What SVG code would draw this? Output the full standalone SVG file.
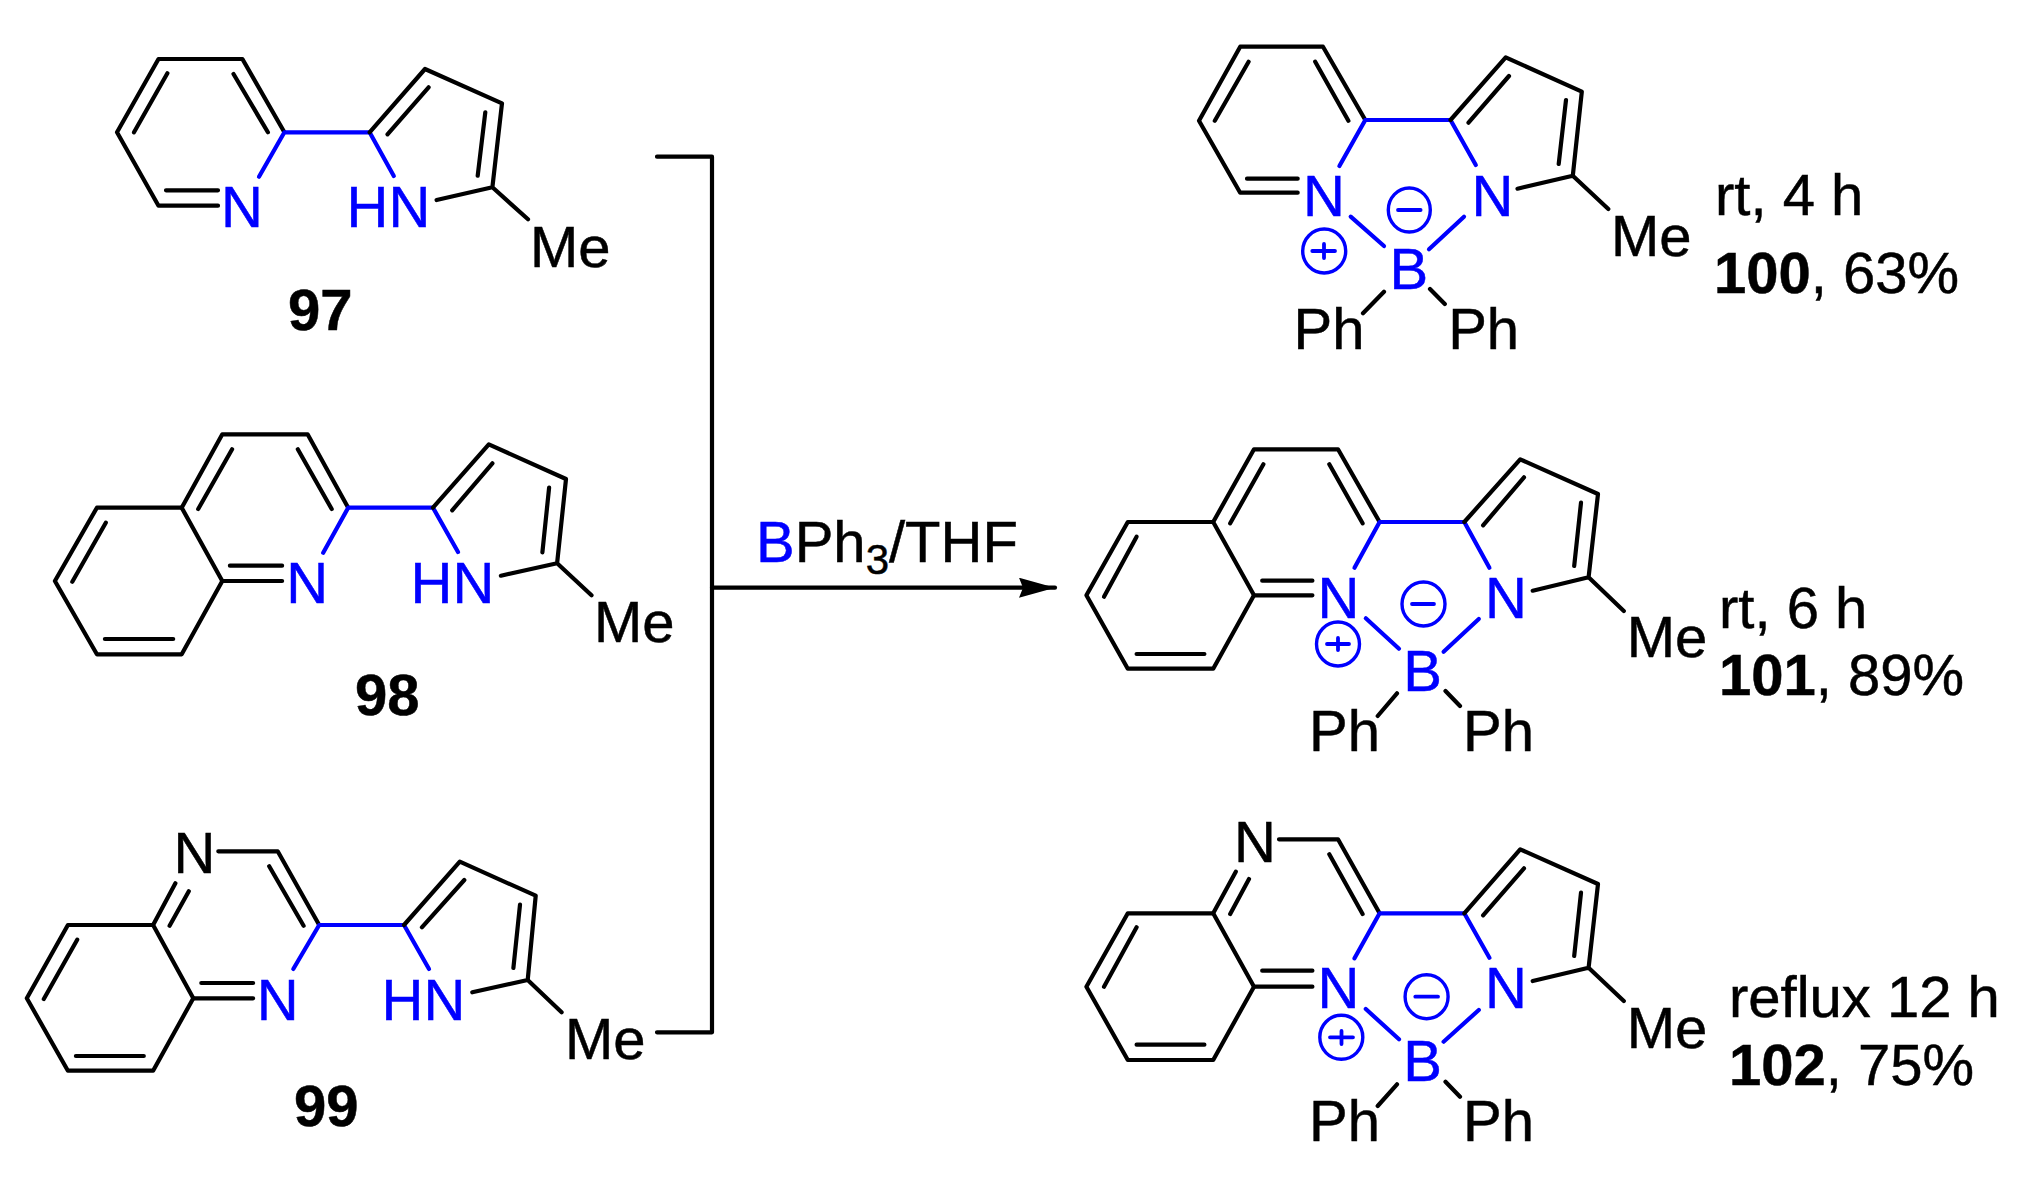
<svg xmlns="http://www.w3.org/2000/svg" width="2034" height="1184" viewBox="0 0 2034 1184">
<defs>
<style>
text{font-family:"Liberation Sans",Arial,sans-serif;font-size:58px;fill:#000;stroke:#000;stroke-width:.5}
.b{fill:#0000ff;stroke:#0000ff}
.bd{font-weight:bold}
path{fill:none;stroke:#000;stroke-width:4.2;stroke-linecap:round;stroke-linejoin:round}
path.bl{stroke:#0000ff}
.c{fill:none;stroke:#0000ff;stroke-width:3.4}
path.s{stroke:#0000ff;stroke-width:3.8;fill:none}
</style>
<marker id="ah" markerUnits="userSpaceOnUse" markerWidth="40" markerHeight="24" refX="36" refY="10" orient="auto">
<polygon points="0,0 36,10 0,20 4,10" fill="#000"/>
</marker>
</defs>
<rect width="2034" height="1184" fill="#fff"/>
<g id="connectors">
<path d="M657 156.7H712V1032.3H657"/>
<path d="M712 587.7H1055" marker-end="url(#ah)"/>
</g>
<g id="reagent"><text x="756" y="561.7"><tspan class="b">B</tspan>Ph<tspan dy="12.5" style="font-size:42px">3</tspan><tspan dy="-12.5">/THF</tspan></text></g>

<g id="m97">
<path d="M284.4 132.3L242.4 59H158.5L117 132.3L158.5 205.7H218M218 190.3H166M167.4 73.3L134 132.3M233.5 74L267.9 132.3"/>
<path class="bl" d="M259 176.7L284.4 132.3H369.6L393.8 176"/>
<path d="M369.6 132.3L425 69L502 103.3L492.4 187.3L436.6 200M387.5 134.3L428.6 87.3M485.3 112.3L477.7 175.7M492.4 187.3L528 219.3"/>
<text class="b" x="221" y="227.3">N</text><text class="b" x="346.5" y="227.3">HN</text>
<text x="530" y="266.7">Me</text><text class="bd" x="288" y="330">97</text>
</g>

<g id="m98">
<path d="M348.2 507.7L307.6 434.3H222.3L181.7 507.7L222.3 581H282.1M282.1 565.7H229.9M232.1 449.3L198.2 509M297.8 449.3L331.7 509"/>
<path d="M181.7 507.7H96.9L54.9 581L96.9 654.3H181.7L222.3 581M105.8 522.7L72.3 581.7M104.9 639H173.2"/>
<path class="bl" d="M323.2 552.7L348.2 507.7H433L458 552"/>
<path d="M433 507.7L488.8 444.3L566 479L557.1 563.3L500.9 575.7M452.2 510.3L492.4 463.3M549.1 487.7L542.4 552.3M557.1 563.3L591.5 595.3"/>
<text class="b" x="286.3" y="603.3">N</text><text class="b" x="410.5" y="603.3">HN</text>
<text x="594" y="642.3">Me</text><text class="bd" x="355" y="715">98</text>
</g>

<g id="m99">
<path d="M319.2 925L277.7 851.3H218.3M175.4 883.3L153.1 925L193.3 998.3H253.1M253.1 983H201.3M169.6 925.7L188.8 891.3M269.2 866.3L303.6 925.7"/>
<path d="M153.1 925H67.9L26.8 998.3L67.9 1070.7H153.1L193.3 998.3M77.2 939.7L43.8 999M75.9 1056H143.8"/>
<path class="bl" d="M293.3 969L319.2 925H404L429 969"/>
<path d="M404 925L459.8 861.7L535.7 895.7L527.7 980L472.3 992.3M421.9 927.3L464.3 880M520 904.7L513.4 968M527.7 980L561.6 1012.3"/>
<text x="173.5" y="873.3">N</text><text class="b" x="256.7" y="1020">N</text><text class="b" x="381.5" y="1020">HN</text>
<text x="565" y="1059.3">Me</text><text class="bd" x="294" y="1125.7">99</text>
</g>

<g id="m100">
<path d="M1365.3 120L1323 46.7H1240.2L1199 120.7L1240.2 192.7H1297.7M1297.7 178.7H1247M1248.6 61.7L1214.8 120.7M1315.2 61.7L1348.4 120.7"/>
<path class="bl" d="M1339.4 166L1365.3 120H1450.5L1475.8 165M1350.7 216.7L1384 246M1464 216.7L1429 249.3"/>
<path d="M1450.5 120L1505.7 57.3L1581.8 91.7L1572.8 175.7L1517.5 188.7M1468.5 122.7L1509 76M1566 100L1558.7 164M1572.8 175.7L1608.3 209M1384 291.7L1363 313.3M1430 289L1444.8 304"/>
<text class="b" x="1303" y="216">N</text><text class="b" x="1471.5" y="216">N</text><text class="b" x="1389.5" y="289">B</text>
<ellipse class="c" cx="1409.3" cy="210" rx="21" ry="22"/><path class="s" d="M1398 210H1420.6"/>
<ellipse class="c" cx="1324.2" cy="251" rx="21.5" ry="22"/><path class="s" d="M1312.3 251H1335M1324 244V258"/>
<text x="1293.5" y="349">Ph</text><text x="1448.2" y="349">Ph</text><text x="1611" y="255.7">Me</text>
<text x="1715" y="215">rt, 4 h</text><text x="1714" y="292.7"><tspan class="bd">100</tspan>, 63%</text>
</g>

<g id="m101">
<path d="M1379.6 522L1338 449.3H1254L1213.2 522L1254 595.3H1312.4M1312.4 580.7H1262.2M1263.4 464.3L1230.2 523.3M1329.3 464.3L1362.6 523.3"/>
<path d="M1213.2 522H1127.8L1086.4 595.3L1127.8 668.7H1213.2L1254 595.3M1136.6 536.7L1104 596.7M1136.6 654H1204.4"/>
<path class="bl" d="M1354.5 567.7L1379.6 522H1464.3L1489.4 567.7M1365.8 618.3L1399 648.7M1478.8 619L1443.6 651.7"/>
<path d="M1464.3 522L1520.2 459.3L1598 494L1588.6 577.3L1532.7 590.7M1483.1 525.3L1524 477.3M1581 502.7L1574.2 566M1588.6 577.3L1623.8 611M1397 693.3L1377.7 716M1445.5 691L1460 706"/>
<text class="b" x="1317.5" y="617.7">N</text><text class="b" x="1485" y="617.7">N</text><text class="b" x="1403.3" y="690.7">B</text>
<ellipse class="c" cx="1423.5" cy="604" rx="21.5" ry="22"/><path class="s" d="M1412 604H1434"/>
<ellipse class="c" cx="1338" cy="644" rx="21.5" ry="22"/><path class="s" d="M1327 644H1349M1338 638V650"/>
<text x="1309" y="751">Ph</text><text x="1463" y="751">Ph</text><text x="1626.7" y="657.3">Me</text>
<text x="1719" y="628.3">rt, 6 h</text><text x="1719" y="695"><tspan class="bd">101</tspan>, 89%</text>
</g>

<g id="m102">
<path d="M1379.6 913.3L1338 839.3H1279M1235.8 871.7L1213.2 913.3L1254 986.7H1312.4M1312.4 970.7H1262.2M1230.2 914L1249 879M1329.3 854.3L1362.6 914"/>
<path d="M1213.2 913.3H1127.8L1086.4 986.7L1127.8 1060H1213.2L1254 986.7M1136.6 927.3L1104 986.7M1136.6 1044.7H1204.4"/>
<path class="bl" d="M1354.5 958.3L1379.6 913.3H1464.3L1489.4 957.7M1365.8 1009L1399 1039.3M1478.8 1010L1443.6 1041.7"/>
<path d="M1464.3 913.3L1520.2 849.3L1598 884L1588.6 967.7L1532.7 981M1483.1 915.3L1524 868.3M1581 892.7L1574.2 956M1588.6 967.7L1623.8 1001M1397 1084.3L1377.7 1106M1445.5 1081.7L1460 1096.7"/>
<text x="1234" y="862.3">N</text><text class="b" x="1317.5" y="1008.3">N</text><text class="b" x="1485" y="1008.3">N</text><text class="b" x="1403.3" y="1081">B</text>
<ellipse class="c" cx="1426.6" cy="996.7" rx="21.5" ry="22"/><path class="s" d="M1415.3 996.7H1438"/>
<ellipse class="c" cx="1341.3" cy="1037.3" rx="21.5" ry="22"/><path class="s" d="M1330 1037.3H1353M1341.5 1031V1044"/>
<text x="1309" y="1141">Ph</text><text x="1463" y="1141">Ph</text><text x="1626.7" y="1047.7">Me</text>
<text x="1729" y="1016.7">reflux 12 h</text><text x="1729" y="1085"><tspan class="bd">102</tspan>, 75%</text>
</g>
</svg>
